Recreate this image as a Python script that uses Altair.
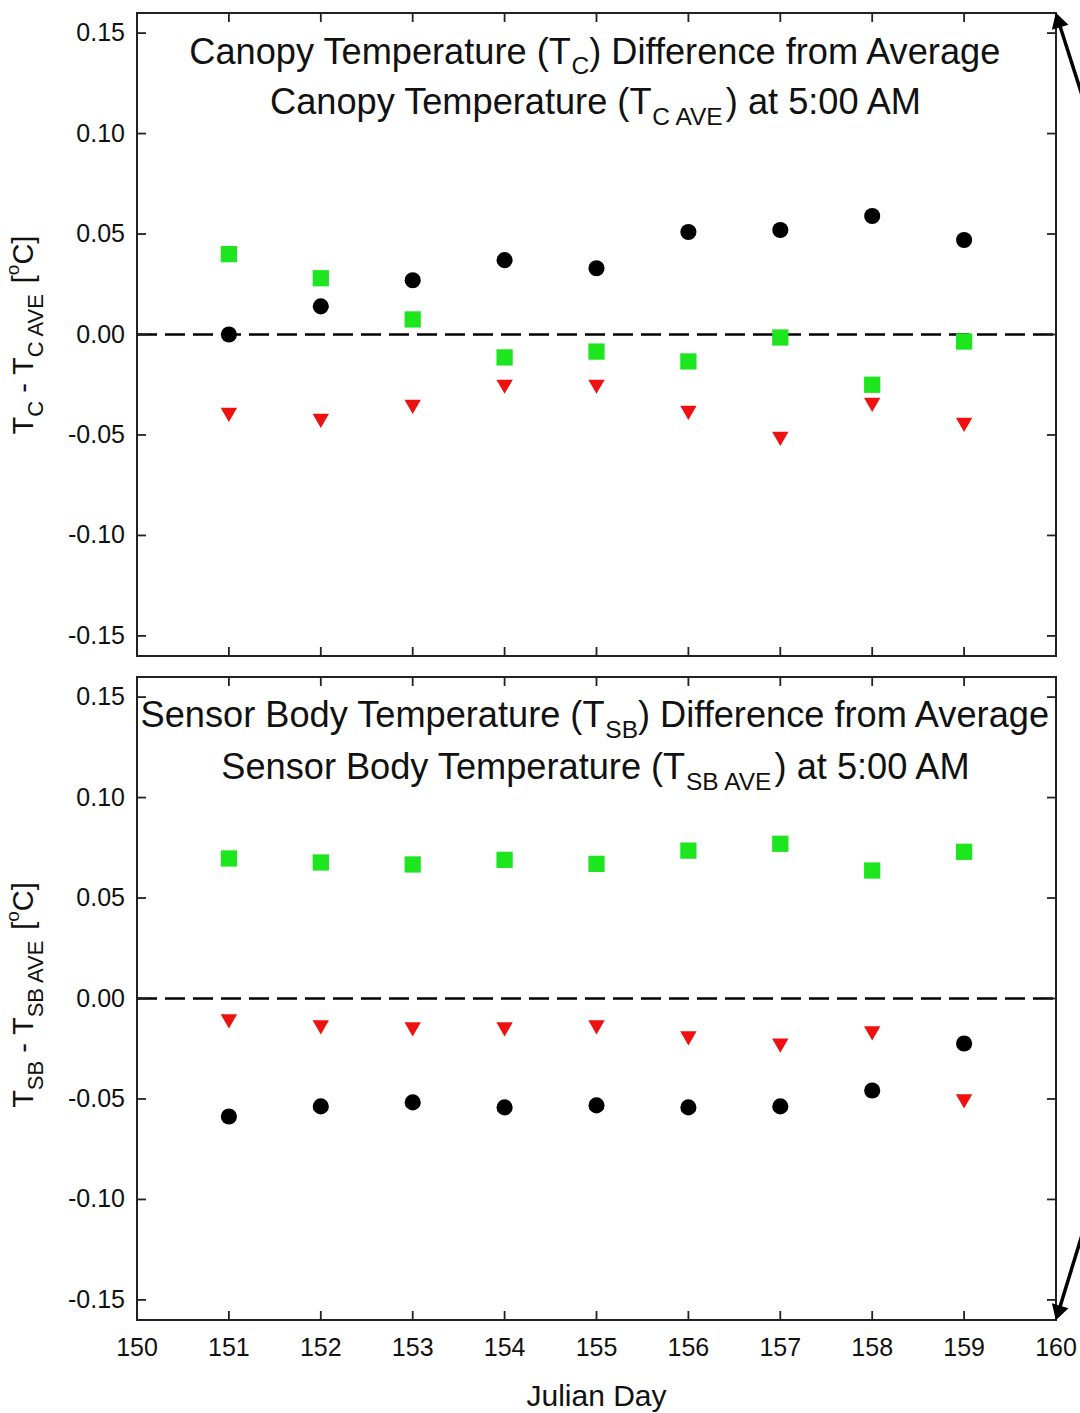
import altair as alt
import pandas as pd

# ---------------- data ----------------
days = [151, 152, 153, 154, 155, 156, 157, 158, 159]
tc_black = [0.000, 0.014, 0.027, 0.037, 0.033, 0.051, 0.052, 0.059, 0.047]
tc_green = [0.040, 0.028, 0.0075, -0.0114, -0.0085, -0.0134, -0.0015, -0.025, -0.0035]
tc_red = [-0.040, -0.043, -0.036, -0.026, -0.026, -0.039, -0.052, -0.035, -0.045]
tsb_green = [0.0697, 0.0677, 0.0667, 0.069, 0.067, 0.0736, 0.077, 0.0637, 0.073]
tsb_red = [-0.0114, -0.0144, -0.0154, -0.0154, -0.0144, -0.0199, -0.0234, -0.0174, -0.0512]
tsb_black = [-0.0587, -0.0537, -0.0517, -0.0542, -0.0532, -0.0542, -0.0537, -0.0458, -0.0224]
series_names = ["black", "green", "red"]
x_ticks = [150, 151, 152, 153, 154, 155, 156, 157, 158, 159, 160]
y_ticks = [-0.15, -0.10, -0.05, 0.0, 0.05, 0.10, 0.15]
y_tick_labels = ["-0.15", "-0.10", "-0.05", "0.00", "0.05", "0.10", "0.15"]
x_tick_labels = [str(v) for v in x_ticks]

FONT = "Liberation Sans"
TXT = "#111111"
OX, OY = 137, 13          # plot origin on the page
W = 919
H_TOP = 643
GAP = 21
H_ALL = 1307
Y0_BOT = H_TOP + GAP      # 664


def long_df(b, g, r):
    rows = []
    for name, vals in zip(series_names, [b, g, r]):
        for d, v in zip(days, vals):
            rows.append({"day": d, "value": v, "series": name})
    return pd.DataFrame(rows)


df_top = long_df(tc_black, tc_green, tc_red)
df_bot = long_df(tsb_black, tsb_green, tsb_red)
df_xt = pd.DataFrame({"x": x_ticks, "label": x_tick_labels})
df_yt = pd.DataFrame({"y": y_ticks, "label": y_tick_labels})
one = pd.DataFrame({"a": [0]})

xscale = alt.Scale(domain=[150, 160], nice=False, zero=False)
yscale_top = alt.Scale(domain=[-0.16, 0.16], range=[H_TOP, 0], nice=False, zero=False)
yscale_bot = alt.Scale(domain=[-0.16, 0.16], range=[H_ALL, Y0_BOT], nice=False, zero=False)

shape_scale = alt.Scale(domain=series_names, range=["circle", "square", "triangle-down"])
color_scale = alt.Scale(domain=series_names, range=["#000000", "#1EE61E", "#EE1111"])
size_scale = alt.Scale(domain=series_names, range=[260, 270, 345])

TICK = "#222222"


def panel(df, yscale, top_px, bot_px, with_xlabels):
    pts = alt.Chart(df).mark_point(filled=True, opacity=1).encode(
        x=alt.X("day:Q", scale=xscale, axis=None),
        y=alt.Y("value:Q", scale=yscale, axis=None),
        shape=alt.Shape("series:N", scale=shape_scale, legend=None),
        color=alt.Color("series:N", scale=color_scale, legend=None),
        size=alt.Size("series:N", scale=size_scale, legend=None),
    )
    zero = alt.Chart(one).mark_rule(color="#000000", strokeWidth=2.5, strokeDash=[20, 8]).encode(
        y=alt.YDatum(0.0, scale=yscale, axis=None), x=alt.value(0), x2=alt.value(W))
    yt_left = alt.Chart(df_yt).mark_rule(color=TICK, strokeWidth=1.8).encode(
        y=alt.Y("y:Q", scale=yscale, axis=None), x=alt.value(0), x2=alt.value(9))
    yt_right = alt.Chart(df_yt).mark_rule(color=TICK, strokeWidth=1.8).encode(
        y=alt.Y("y:Q", scale=yscale, axis=None), x=alt.value(W - 9), x2=alt.value(W))
    xt_top = alt.Chart(df_xt).mark_rule(color=TICK, strokeWidth=1.8).encode(
        x=alt.X("x:Q", scale=xscale, axis=None), y=alt.value(top_px), y2=alt.value(top_px + 9))
    xt_bot = alt.Chart(df_xt).mark_rule(color=TICK, strokeWidth=1.8).encode(
        x=alt.X("x:Q", scale=xscale, axis=None), y=alt.value(bot_px - 9), y2=alt.value(bot_px))
    frame = alt.Chart(one).mark_rect(filled=False, stroke=TICK, strokeWidth=2).encode(
        x=alt.value(0), x2=alt.value(W), y=alt.value(top_px), y2=alt.value(bot_px))
    ylab = alt.Chart(df_yt).mark_text(align="right", baseline="middle", fontSize=25, font=FONT,
                                      color=TXT).encode(
        y=alt.Y("y:Q", scale=yscale, axis=None), x=alt.value(-12), text="label:N")
    layers = [frame, zero, yt_left, yt_right, xt_top, xt_bot, ylab, pts]
    if with_xlabels:
        xlab = alt.Chart(df_xt).mark_text(align="center", baseline="alphabetic", fontSize=25,
                                          font=FONT, color=TXT).encode(
            x=alt.X("x:Q", scale=xscale, axis=None), y=alt.value(1356 - OY), text="label:N")
        layers.append(xlab)
    return alt.layer(*layers)


def txt(s, x, y, size, align="left", angle=0):
    return alt.Chart(one).mark_text(text=s, align=align, baseline="alphabetic", fontSize=size,
                                    font=FONT, color=TXT, angle=angle).encode(
        x=alt.value(x), y=alt.value(y))


# Arial / Liberation Sans advance widths (per 1000 em)
AW = {" ": 278, "(": 333, ")": 333, "-": 333, ":": 278, "[": 278, "]": 278,
      "A": 667, "B": 667, "C": 722, "D": 722, "E": 667, "M": 833, "S": 667, "T": 611, "V": 667,
      "a": 556, "c": 500, "d": 556, "e": 556, "f": 278, "g": 556, "i": 222, "m": 833, "n": 556,
      "o": 556, "p": 556, "r": 333, "s": 500, "t": 278, "u": 556, "v": 500, "y": 500}
for ch in "0123456789":
    AW[ch] = 556


def tw(s, size):
    return sum(AW.get(c, 556) for c in s) * size / 1000.0


MAIN, SUB = 36.2, 24.5
CX = OX + W / 2.0
G1, G2 = -4, 0   # gap before / after subscript


def title_line(pre, sub, post, base, sub_drop):
    total = tw(pre, MAIN) + G1 + tw(sub, SUB) + G2 + tw(post, MAIN)
    x = CX - total / 2.0
    out = [txt(pre, x - OX, base - OY, MAIN)]
    x += tw(pre, MAIN) + G1
    out.append(txt(sub, x - OX, base + sub_drop - OY, SUB))
    x += tw(sub, SUB) + G2
    out.append(txt(post, x - OX, base - OY, MAIN))
    return out


annots = []
annots += title_line("Canopy Temperature (T", "C", ") Difference from Average", 64, 10)
annots += title_line("Canopy Temperature (T", "C AVE", ") at 5:00 AM", 114, 11)
annots += title_line("Sensor Body Temperature (T", "SB", ") Difference from Average", 727, 11)
annots += title_line("Sensor Body Temperature (T", "SB AVE", ") at 5:00 AM", 779, 11)

# rotated y-axis titles (text runs upward)
YM, YS, YP = 29, 22, 19
XB_M, XB_S, XB_P = 33, 43, 19


def ytitle(parts, center_y):
    sizes = {"m": YM, "s": YS, "p": YP}
    xs = {"m": XB_M, "s": XB_S, "p": XB_P}
    total = sum(tw(s, sizes[k]) for s, k in parts)
    y = center_y + total / 2.0
    out = []
    for s, k in parts:
        body = s.lstrip(" ")
        y -= tw(s[: len(s) - len(body)], sizes[k])
        out.append(txt(body, xs[k] - OX, y - OY, sizes[k], angle=270))
        y -= tw(body, sizes[k])
    return out


annots += ytitle([("T", "m"), ("C", "s"), (" -", "m"), (" T", "m"), ("C AVE", "s"), (" [", "m"),
                  ("o", "p"), ("C]", "m")], 335)
annots += ytitle([("T", "m"), ("SB", "s"), (" -", "m"), (" T", "m"), ("SB AVE", "s"), (" [", "m"),
                  ("o", "p"), ("C]", "m")], 995)

# x axis title
annots.append(txt("Julian Day", CX - OX, 1406 - OY, 30, align="center"))

# arrows leaving the frame on the right
arr_top = alt.Chart(one).mark_rule(color="#000000", strokeWidth=3.5).encode(
    x=alt.value(W + 3), y=alt.value(10), x2=alt.value(1082 - OX), y2=alt.value(95 - OY))
head_top = alt.Chart(one).mark_point(shape="triangle-up", filled=True, color="#000000", size=300,
                                     angle=343, opacity=1).encode(
    x=alt.value(W + 2), y=alt.value(7))
arr_bot = alt.Chart(one).mark_rule(color="#000000", strokeWidth=3.5).encode(
    x=alt.value(W + 3), y=alt.value(H_ALL - 10), x2=alt.value(1082 - OX), y2=alt.value(1235 - OY))
head_bot = alt.Chart(one).mark_point(shape="triangle-up", filled=True, color="#000000", size=300,
                                     angle=197, opacity=1).encode(
    x=alt.value(W + 2), y=alt.value(H_ALL - 7))

top = panel(df_top, yscale_top, 0, H_TOP, False)
bot = panel(df_bot, yscale_bot, Y0_BOT, H_ALL, True)

chart = alt.layer(top, bot, arr_top, head_top, arr_bot, head_bot, *annots).resolve_scale(
    y="independent"
).properties(
    width=W, height=H_ALL,
    autosize=alt.AutoSizeParams(type="none"),
    padding={"left": OX, "top": OY, "right": 1080 - OX - W, "bottom": 1413 - OY - H_ALL},
    background="white",
).configure_view(stroke=None)

chart.save("out.html", embed_options={"renderer": "svg", "actions": False})
